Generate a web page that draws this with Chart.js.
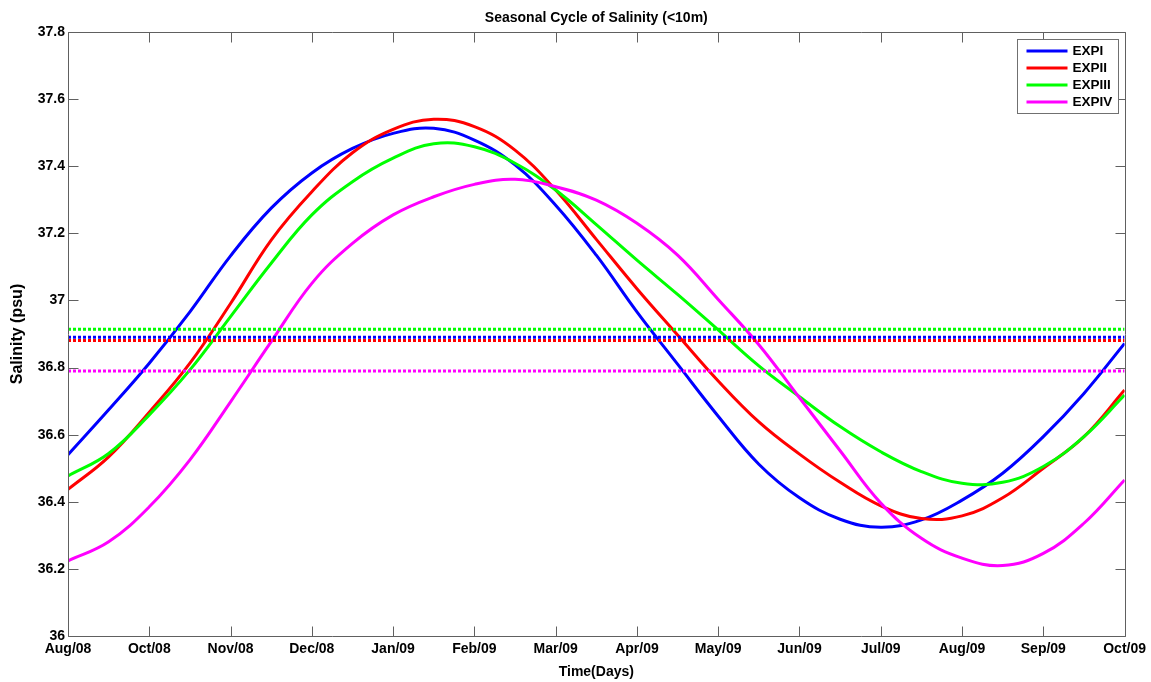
<!DOCTYPE html>
<html>
<head>
<meta charset="utf-8">
<script src="https://cdn.jsdelivr.net/npm/chart.js@4.4.1/dist/chart.umd.min.js"></script>
<style>
  html, body { margin: 0; padding: 0; background: #fff; }
  #wrap { width: 1151px; height: 682px; position: relative; }
</style>
</head>
<body>
<div id="wrap"><canvas id="salinity-chart"></canvas></div>
<script>
    'use strict';

    // month tick labels, one per axis step (0..13)
    var monthLabels = ['Aug/08', 'Oct/08', 'Nov/08', 'Dec/08', 'Jan/09', 'Feb/09', 'Mar/09',
        'Apr/09', 'May/09', 'Jun/09', 'Jul/09', 'Aug/09', 'Sep/09', 'Oct/09'];

    // sample positions along the time axis (half steps)
    var timeSteps = [0, 0.5, 1, 1.5, 2, 2.5, 3, 3.5, 4, 4.5, 5, 5.5, 6, 6.5, 7,
        7.5, 8, 8.5, 9, 9.5, 10, 10.5, 11, 11.5, 12, 12.5, 13];

    var expI = [36.540, 36.674, 36.813, 36.966, 37.133, 37.275, 37.380, 37.453, 37.498, 37.513,
        37.478, 37.404, 37.284, 37.135, 36.966, 36.810, 36.655, 36.512, 36.412, 36.348,
        36.324, 36.346, 36.405, 36.485, 36.594, 36.723, 36.872];
    var expII = [36.437, 36.534, 36.667, 36.813, 36.991, 37.180, 37.324, 37.440, 37.510, 37.540,
        37.518, 37.448, 37.329, 37.182, 37.035, 36.897, 36.760, 36.638, 36.542, 36.458,
        36.388, 36.350, 36.358, 36.412, 36.500, 36.594, 36.733];
    var expIII = [36.477, 36.544, 36.659, 36.793, 36.952, 37.111, 37.255, 37.354, 37.424, 37.467,
        37.458, 37.409, 37.329, 37.226, 37.120, 37.018, 36.912, 36.805, 36.713, 36.624,
        36.549, 36.490, 36.455, 36.458, 36.505, 36.594, 36.718];
    var expIV = [36.224, 36.281, 36.385, 36.525, 36.698, 36.877, 37.051, 37.170, 37.255, 37.309,
        37.346, 37.361, 37.339, 37.299, 37.230, 37.135, 37.003, 36.868, 36.710, 36.552,
        36.396, 36.291, 36.232, 36.210, 36.246, 36.336, 36.465];

    // annual means (dotted lines)
    var meanValues = [36.890, 36.881, 36.914, 36.790];

    var seriesNames = ['EXPI', 'EXPII', 'EXPIII', 'EXPIV'];
    var seriesColors = ['#0000ff', '#ff0000', '#00ff00', '#ff00ff'];
    var seriesData = [expI, expII, expIII, expIV];

    var FONT = '"Liberation Sans", Arial, Helvetica, sans-serif';

    function toPoints(values) {
        return values.map(function(v, i) { return {x: timeSteps[i], y: v}; });
    }

    var datasets = seriesData.map(function(values, i) {
        return {
            label: seriesNames[i],
            data: toPoints(values),
            borderColor: seriesColors[i],
            borderWidth: 3,
            pointRadius: 0,
            tension: 0.4,
            fill: false,
            order: 8 - i
        };
    });

    meanValues.forEach(function(m, i) {
        datasets.push({
            label: 'mean ' + seriesNames[i],
            isMean: true,
            data: [{x: timeSteps[0], y: m}, {x: timeSteps[timeSteps.length - 1], y: m}],
            borderColor: seriesColors[i],
            borderWidth: 3,
            borderDash: [3, 2],
            pointRadius: 0,
            fill: false,
            order: 4 - i
        });
    });

    // box round the plot, inward ticks on all four sides and the legend
    var frameAndLegend = {
        id: 'frameAndLegend',
        afterDatasetsDraw: function(chart) {
            var ctx = chart.ctx;
            var a = chart.chartArea;
            var xs = chart.scales.x, ys = chart.scales.y;
            var L = Math.round(a.left) + 0.5, R = Math.round(a.right) + 0.5;
            var T = Math.round(a.top) + 0.5, B = Math.round(a.bottom) + 0.5;
            var tick = 10;

            ctx.save();
            ctx.strokeStyle = '#606060';
            ctx.lineWidth = 1;
            ctx.beginPath();
            ctx.rect(L, T, R - L, B - T);
            xs.ticks.forEach(function(t) {
                var px = Math.round(xs.getPixelForValue(t.value)) + 0.5;
                ctx.moveTo(px, B); ctx.lineTo(px, B - tick);
                ctx.moveTo(px, T); ctx.lineTo(px, T + tick);
            });
            ys.ticks.forEach(function(t) {
                var py = Math.round(ys.getPixelForValue(t.value)) + 0.5;
                ctx.moveTo(L, py); ctx.lineTo(L + tick, py);
                ctx.moveTo(R, py); ctx.lineTo(R - tick, py);
            });
            ctx.stroke();

            // legend
            var boxW = 101, boxH = 74;
            var bx = Math.round(a.right - 7 - boxW) + 0.5;
            var by = Math.round(a.top + 7) + 0.5;
            ctx.fillStyle = '#ffffff';
            ctx.fillRect(bx, by, boxW, boxH);
            ctx.strokeStyle = '#707070';
            ctx.strokeRect(bx, by, boxW, boxH);

            ctx.font = 'bold 13.5px ' + FONT;
            ctx.textBaseline = 'middle';
            ctx.textAlign = 'left';
            chart.data.datasets.forEach(function(ds, i) {
                if (ds.isMean) return;
                var ry = by + 11.5 + i * 17;
                ctx.strokeStyle = ds.borderColor;
                ctx.lineWidth = 3;
                ctx.beginPath();
                ctx.moveTo(bx + 9, ry);
                ctx.lineTo(bx + 50, ry);
                ctx.stroke();
                ctx.fillStyle = '#000000';
                ctx.fillText(ds.label, bx + 55, ry + 0.5);
            });
            ctx.restore();
        }
    };

    var ctx = document.getElementById('salinity-chart').getContext('2d');
    new Chart(ctx, {
        type: 'line',
        data: {datasets: datasets},
        options: {
            responsive: true,
            maintainAspectRatio: false,
            animation: false,
            layout: {padding: {left: 0, right: 25, top: 0, bottom: 0}},
            plugins: {
                legend: {display: false},
                tooltip: {enabled: false},
                title: {
                    display: true,
                    text: 'Seasonal Cycle of Salinity (<10m)',
                    fullSize: false,
                    color: '#000',
                    font: {family: FONT, size: 14, weight: 'bold'},
                    padding: {top: 9.6, bottom: 5.6}
                }
            },
            scales: {
                x: {
                    type: 'linear',
                    min: 0,
                    max: 13,
                    afterFit: function(scale) { scale.height = 46; },
                    grid: {display: false, drawTicks: false},
                    border: {display: false},
                    ticks: {
                        stepSize: 1,
                        autoSkip: false,
                        maxRotation: 0,
                        padding: 5,
                        color: '#000',
                        font: {family: FONT, size: 14, weight: 'bold'},
                        callback: function(v) { return monthLabels[v]; }
                    },
                    title: {
                        display: true,
                        text: 'Time(Days)',
                        color: '#000',
                        font: {family: FONT, size: 14, weight: 'bold'},
                        padding: {top: 0, bottom: 1}
                    }
                },
                y: {
                    min: 36,
                    max: 37.8,
                    afterFit: function(scale) { scale.width = 68; },
                    grid: {display: false, drawTicks: false},
                    border: {display: false},
                    ticks: {
                        stepSize: 0.2,
                        padding: 3,
                        color: '#000',
                        font: {family: FONT, size: 14, weight: 'bold'},
                        callback: function(v) { return String(+v.toFixed(1)); }
                    },
                    title: {
                        display: true,
                        text: 'Salinity (psu)',
                        color: '#000',
                        font: {family: FONT, size: 16, weight: 'bold'},
                        padding: {top: 8, bottom: 0}
                    }
                }
            }
        },
        plugins: [frameAndLegend]
    });
</script>
</body>
</html>
